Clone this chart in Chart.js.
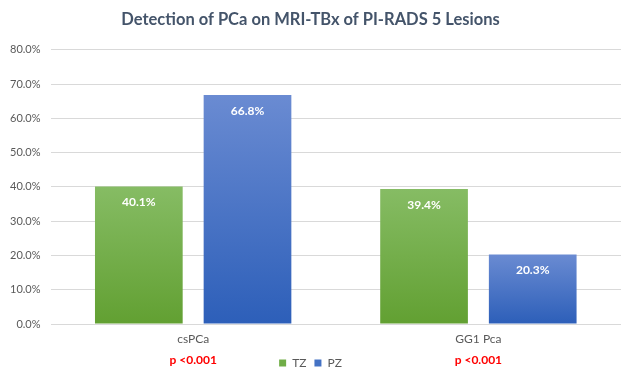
<!DOCTYPE html>
<html>
<head>
<meta charset="utf-8">
<script src="https://cdn.jsdelivr.net/npm/chart.js@4"></script>
<style>
html,body{margin:0;padding:0;background:#fff;}
#wrap{width:632px;height:379px;position:relative;}
</style>
</head>
<body>
<div id="wrap"><canvas id="c" width="632" height="379"></canvas></div>
<script>
const categories = ['csPCa', 'GG1 Pca'];
const tzValues = [40.1, 39.4];
const pzValues = [66.8, 20.3];
const pValues = ['p <0.001', 'p <0.001'];
const seriesNames = ['TZ', 'PZ'];
const titleText = 'Detection of PCa on MRI-TBx of PI-RADS 5 Lesions';

const FONT = 'Lato, "Open Sans", sans-serif';
const gradColors = [
  ['#86BC64', '#62A032'],
  ['#6A8BD2', '#2D5FB9']
];

const gradientPlugin = {
  id: 'grad',
  beforeDatasetsDraw(chart) {
    const ctx = chart.ctx;
    chart.data.datasets.forEach((ds, di) => {
      const meta = chart.getDatasetMeta(di);
      meta.data.forEach(el => {
        const g = ctx.createLinearGradient(0, el.y, 0, el.base);
        g.addColorStop(0, gradColors[di][0]);
        g.addColorStop(1, gradColors[di][1]);
        el.options = Object.assign({}, el.options, { backgroundColor: g });
      });
    });
  }
};

const labelPlugin = {
  id: 'lbl',
  afterDatasetsDraw(chart) {
    const ctx = chart.ctx;
    ctx.save();
    ctx.font = 'bold 12px ' + FONT;
    ctx.fillStyle = '#ffffff';
    ctx.textAlign = 'center';
    ctx.textBaseline = 'middle';
    chart.data.datasets.forEach((ds, di) => {
      const meta = chart.getDatasetMeta(di);
      meta.data.forEach((el, i) => {
        ctx.fillText(ds.data[i].toFixed(1) + '%', el.x, el.y + 16);
      });
    });
    const xs = chart.scales.x;
    ctx.font = 'bold 12px ' + FONT;
    ctx.fillStyle = '#FF0000';
    pValues.forEach((p, i) => {
      ctx.fillText(p, xs.getPixelForValue(i), 360);
    });
    ctx.restore();
  }
};

new Chart(document.getElementById('c'), {
  type: 'bar',
  data: {
    labels: categories,
    datasets: [
      { label: seriesNames[0], data: tzValues, backgroundColor: '#70AD47' },
      { label: seriesNames[1], data: pzValues, backgroundColor: '#4472C4' }
    ]
  },
  options: {
    responsive: false,
    animation: false,
    devicePixelRatio: 1,
    categoryPercentage: 0.762,
    barPercentage: 0.807,
    layout: { padding: { left: 0, right: 11, top: 0, bottom: 0 } },
    plugins: {
      title: {
        display: true,
        text: titleText,
        color: '#44546A',
        font: { family: FONT, size: 16.5, weight: 'bold' },
        padding: { top: 10, bottom: 20 }
      },
      legend: {
        position: 'bottom',
        labels: {
          boxWidth: 7, boxHeight: 7,
          color: '#595959',
          font: { family: FONT, size: 12 },
          padding: 8
        }
      },
      tooltip: { enabled: false }
    },
    scales: {
      x: {
        grid: { display: false, drawTicks: false },
        border: { display: false },
        ticks: { color: '#595959', font: { family: FONT, size: 12 }, padding: 8 },
        afterFit: s => { s.height = 25; }
      },
      y: {
        min: 0, max: 80,
        ticks: {
          stepSize: 10,
          color: '#595959',
          font: { family: FONT, size: 11 },
          padding: 10,
          callback: v => v.toFixed(1) + '%'
        },
        grid: { color: '#D9D9D9', drawTicks: false },
        border: { display: false }
      }
    }
  },
  plugins: [gradientPlugin, labelPlugin]
});
</script>
</body>
</html>
